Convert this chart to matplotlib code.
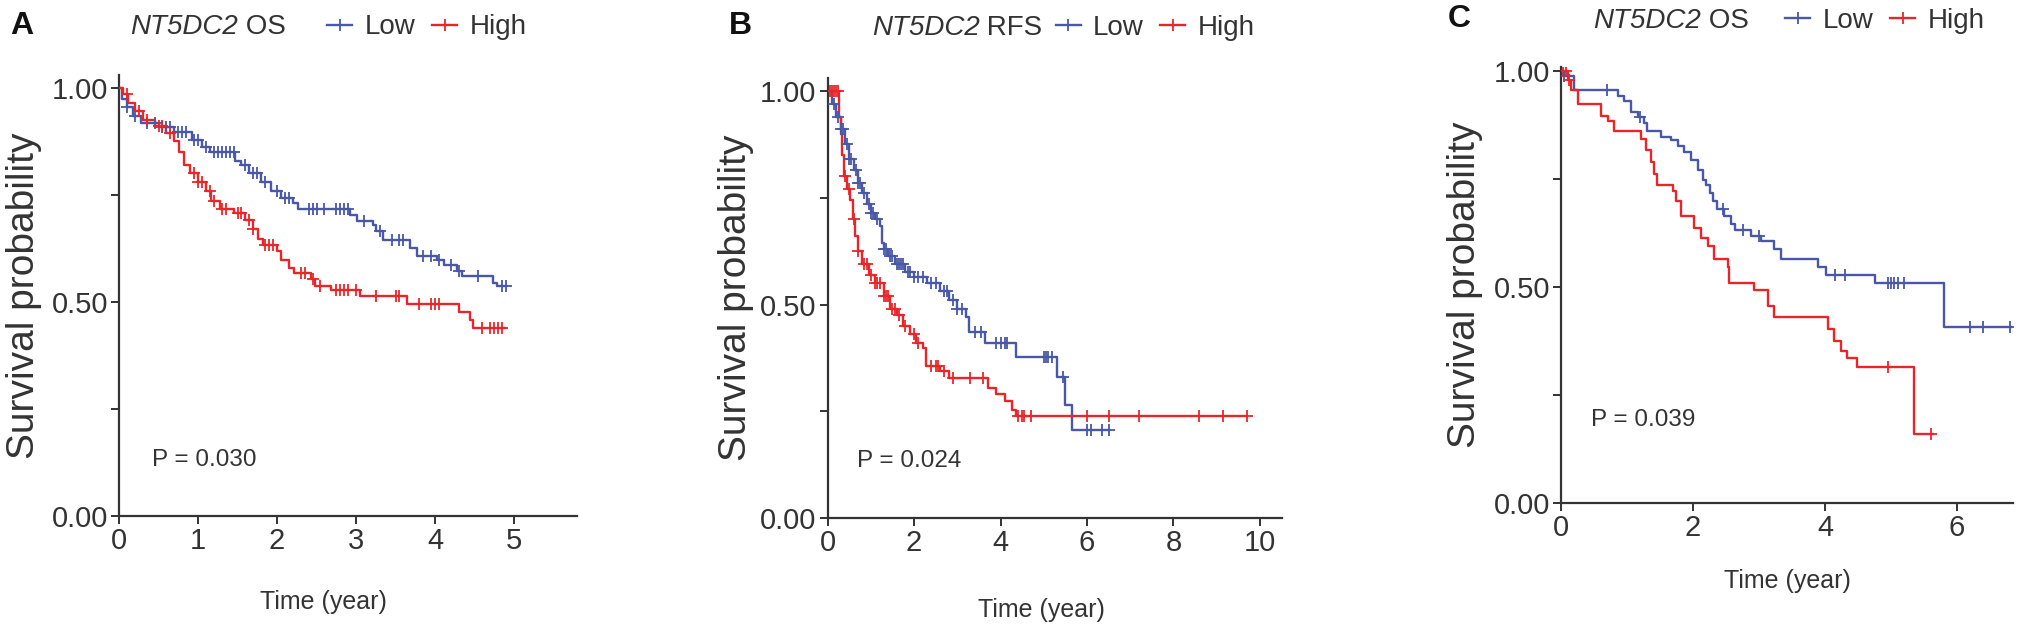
import numpy as np
import matplotlib
matplotlib.use("Agg")
import matplotlib.pyplot as plt
from matplotlib.lines import Line2D

plt.rcParams['font.family'] = ['Liberation Sans', 'DejaVu Sans']

BLUE = '#4858a6'
RED = '#e8262a'
GREY = '#333333'

# ---- panel A: NT5DC2 OS ----
a_low_t = [0, 0.04, 0.1, 0.18, 0.28, 0.5, 0.7, 0.92, 1.05, 1.15, 1.47, 1.55, 1.65, 1.8, 1.93,
           2.05, 2.2, 2.27, 2.92, 3.01, 3.21, 3.25, 3.34, 3.68, 3.77, 4.03, 4.12, 4.28, 4.34,
           4.73, 4.79]
a_low_s = [1.0, 0.975, 0.955, 0.935, 0.918, 0.908, 0.896, 0.878, 0.862, 0.85, 0.83, 0.82, 0.80,
           0.78, 0.758, 0.742, 0.73, 0.717, 0.704, 0.69, 0.68, 0.665, 0.645, 0.625, 0.607, 0.598,
           0.587, 0.572, 0.56, 0.545, 0.537]
a_low_end = 4.9
a_low_cens = [0.1, 0.2, 0.35, 0.45, 0.55, 0.6, 0.65, 0.75, 0.8, 0.85, 0.95, 1.0, 1.1, 1.2, 1.25,
              1.3, 1.35, 1.4, 1.45, 1.6, 1.7, 1.75, 1.85, 2.0, 2.1, 2.15, 2.4, 2.45, 2.5, 2.6,
              2.75, 2.8, 2.85, 2.9, 3.1, 3.3, 3.45, 3.55, 3.6, 3.85, 3.95, 4.05, 4.2, 4.3, 4.55,
              4.85, 4.9]

a_high_t = [0, 0.05, 0.12, 0.2, 0.3, 0.45, 0.6, 0.7, 0.76, 0.82, 0.9, 1.0, 1.1, 1.17, 1.28,
            1.45, 1.6, 1.7, 1.76, 1.82, 2.0, 2.05, 2.15, 2.22, 2.43, 2.48, 2.68, 3.05, 3.64,
            4.3, 4.44, 4.48]
a_high_s = [1.0, 0.985, 0.965, 0.945, 0.925, 0.91, 0.895, 0.875, 0.85, 0.82, 0.80, 0.78, 0.76,
            0.735, 0.717, 0.707, 0.692, 0.67, 0.648, 0.632, 0.618, 0.598, 0.58, 0.568, 0.553,
            0.537, 0.527, 0.513, 0.495, 0.476, 0.458, 0.44]
a_high_end = 4.89
a_high_cens = [0.1, 0.25, 0.35, 0.5, 0.55, 0.65, 0.95, 1.0, 1.05, 1.15, 1.2, 1.3, 1.35, 1.5,
               1.55, 1.65, 1.7, 1.85, 1.9, 1.95, 2.3, 2.35, 2.45, 2.55, 2.75, 2.8, 2.85, 2.9,
               3.0, 3.25, 3.5, 3.55, 3.8, 3.95, 4.0, 4.05, 4.6, 4.7, 4.75, 4.8, 4.85]

# ---- panel B: NT5DC2 RFS ----
b_low_t = [0, 0.1, 0.2, 0.3, 0.4, 0.5, 0.6, 0.7, 0.8, 0.9, 1.0, 1.1, 1.2, 1.25, 1.3, 1.4, 1.55,
           1.8, 2.0, 2.3, 2.6, 2.8, 3.0, 3.2, 3.28, 3.65, 4.35, 5.3, 5.5, 5.65]
b_low_s = [1.0, 0.97, 0.94, 0.91, 0.875, 0.84, 0.815, 0.785, 0.76, 0.735, 0.715, 0.70, 0.685,
           0.645, 0.63, 0.614, 0.595, 0.575, 0.565, 0.55, 0.532, 0.51, 0.49, 0.47, 0.435, 0.41,
           0.378, 0.33, 0.265, 0.207]
b_low_end = 6.5
b_low_cens = [0.15, 0.25, 0.3, 0.35, 0.45, 0.5, 0.55, 0.65, 0.7, 0.75, 0.85, 0.95, 1.0, 1.05,
              1.15, 1.3, 1.35, 1.45, 1.5, 1.6, 1.65, 1.7, 1.75, 1.85, 1.9, 2.0, 2.1, 2.2, 2.4,
              2.5, 2.7, 2.75, 2.9, 3.0, 3.1, 3.4, 3.55, 3.9, 4.0, 4.1, 4.15, 5.0, 5.05, 5.1,
              5.2, 5.45, 6.0, 6.1, 6.35, 6.5]

b_high_t = [0, 0.27, 0.3, 0.33, 0.38, 0.45, 0.52, 0.58, 0.64, 0.7, 0.8, 0.95, 1.1, 1.3, 1.45,
            1.6, 1.75, 1.9, 2.05, 2.2, 2.28, 2.6, 2.8, 3.7, 3.9, 4.1, 4.27, 4.35]
b_high_s = [1.0, 0.94, 0.90, 0.85, 0.80, 0.77, 0.745, 0.70, 0.66, 0.625, 0.595, 0.57, 0.55,
            0.52, 0.49, 0.475, 0.45, 0.43, 0.41, 0.398, 0.357, 0.345, 0.327, 0.305, 0.29,
            0.275, 0.253, 0.238]
b_high_end = 9.7
b_high_cens = [0.05, 0.1, 0.15, 0.2, 0.25, 0.4, 0.5, 0.6, 0.7, 0.85, 0.9, 1.0, 1.1, 1.15, 1.2,
               1.3, 1.35, 1.4, 1.5, 1.55, 1.65, 1.8, 2.0, 2.1, 2.4, 2.5, 2.55, 2.7, 2.9, 3.3,
               3.6, 4.4, 4.5, 4.55, 4.7, 6.0, 6.5, 7.2, 8.6, 9.15, 9.7]

# ---- panel C: NT5DC2 OS ----
c_low_t = [0, 0.05, 0.2, 0.86, 0.96, 1.06, 1.16, 1.26, 1.31, 1.52, 1.67, 1.77, 1.87, 1.97,
           2.07, 2.15, 2.2, 2.25, 2.3, 2.37, 2.47, 2.58, 2.63, 2.88, 3.03, 3.23, 3.33, 3.89,
           4.02, 4.75, 5.8]
c_low_s = [1.0, 0.99, 0.956, 0.942, 0.93, 0.906, 0.893, 0.88, 0.862, 0.848, 0.84, 0.826, 0.812,
           0.794, 0.772, 0.749, 0.736, 0.718, 0.70, 0.682, 0.664, 0.646, 0.633, 0.619, 0.606,
           0.588, 0.565, 0.547, 0.529, 0.509, 0.407]
c_low_end = 6.82
c_low_cens = [0.05, 0.7, 1.2, 2.45, 2.75, 3.0, 4.15, 4.3, 4.95, 5.0, 5.05, 5.1, 5.2, 6.2, 6.4,
              6.8]

c_high_t = [0, 0.1, 0.15, 0.25, 0.6, 0.71, 0.81, 1.21, 1.29, 1.36, 1.41, 1.46, 1.69, 1.74,
            1.82, 2.02, 2.12, 2.22, 2.32, 2.53, 2.55, 2.93, 3.13, 3.23, 4.04, 4.14, 4.24, 4.34,
            4.49, 5.35]
c_high_s = [1.0, 0.98, 0.956, 0.925, 0.897, 0.884, 0.862, 0.843, 0.817, 0.79, 0.763, 0.736,
            0.722, 0.70, 0.664, 0.637, 0.614, 0.596, 0.565, 0.547, 0.51, 0.493, 0.457, 0.43,
            0.403, 0.376, 0.353, 0.335, 0.315, 0.16]
c_high_end = 5.63
c_high_cens = [0.03, 0.08, 0.12, 4.95, 5.6]

panels = [
    dict(letter='A', gene='NT5DC2', kind=' OS', p='P = 0.030',
         low=(a_low_t, a_low_s, a_low_end, a_low_cens),
         high=(a_high_t, a_high_s, a_high_end, a_high_cens),
         rect=[0.0586, 0.1744, 0.2256, 0.7056], xlim=5.8, ytop=1.03, xticks=[0, 1, 2, 3, 4, 5],
         title_x=0.024, title_y=1.108, leg_x=0.455, p_xy=(0.072, 0.126),
         ylab_x=-0.168, xlab_y=-0.168, xlab_x=0.447, letter_xy=(0.005, 0.958)),
    dict(letter='B', gene='NT5DC2', kind=' RFS', p='P = 0.024',
         low=(b_low_t, b_low_s, b_low_end, b_low_cens),
         high=(b_high_t, b_high_s, b_high_end, b_high_cens),
         rect=[0.4075, 0.171, 0.2235, 0.704], xlim=10.5, ytop=1.03,
         xticks=[0, 2, 4, 6, 8, 10],
         title_x=0.097, title_y=1.115, leg_x=0.502, p_xy=(0.064, 0.13),
         ylab_x=-0.163, xlab_y=-0.182, xlab_x=0.47, letter_xy=(0.359, 0.958)),
    dict(letter='C', gene='NT5DC2', kind=' OS', p='P = 0.039',
         low=(c_low_t, c_low_s, c_low_end, c_low_cens),
         high=(c_high_t, c_high_s, c_high_end, c_high_cens),
         rect=[0.7686, 0.195, 0.2226, 0.698], xlim=6.85, ytop=1.01, xticks=[0, 2, 4, 6],
         title_x=0.071, title_y=1.106, leg_x=0.496, p_xy=(0.066, 0.19),
         ylab_x=-0.173, xlab_y=-0.152, xlab_x=0.5, letter_xy=(0.713, 0.969)),
]


def km(ax, t, s, end, cens, color):
    t = np.asarray(t)
    s = np.asarray(s)
    ax.step(np.append(t, end), np.append(s, s[-1]), where='post', color=color, lw=1.7,
            zorder=3)
    cens = np.asarray(cens)
    cy = s[np.searchsorted(t, cens, side='right') - 1]
    ax.plot(cens, cy, ls='none', marker='+', ms=8, mew=1.3, color=color, zorder=4)


fig = plt.figure(figsize=(20.31, 6.25), dpi=100)

for p in panels:
    ax = fig.add_axes(p['rect'])
    km(ax, *p['low'], BLUE)
    km(ax, *p['high'], RED)
    ax.set_xlim(0, p['xlim'])
    ax.set_ylim(0, p['ytop'])
    ax.set_yticks([0, 0.25, 0.5, 0.75, 1.0], labels=['0.00', '', '0.50', '', '1.00'])
    ax.set_xticks(p['xticks'])
    for side in ['top', 'right']:
        ax.spines[side].set_visible(False)
    for side in ['left', 'bottom']:
        ax.spines[side].set_color(GREY)
        ax.spines[side].set_linewidth(1.6)
    ax.tick_params(direction='out', length=6, width=1.4, color=GREY, labelcolor=GREY,
                   labelsize=21, pad=2)
    ax.set_ylabel('Survival probability', fontsize=28, color=GREY)
    ax.yaxis.set_label_coords(p['ylab_x'], 0.5)
    ax.set_xlabel('Time (year)', fontsize=18, color=GREY)
    ax.xaxis.set_label_coords(p['xlab_x'], p['xlab_y'])
    ax.text(p['p_xy'][0], p['p_xy'][1], p['p'], transform=ax.transAxes, fontsize=17.5,
            color=GREY, va='center', ha='left')
    # title: italic gene symbol followed by upright endpoint name
    g = ax.text(p['title_x'], p['title_y'], p['gene'], transform=ax.transAxes, fontsize=20,
                color=GREY, va='center', ha='left', fontstyle='italic')
    ax.annotate(p['kind'], xy=(1, 0), xycoords=g, fontsize=20, color=GREY,
                va='bottom', ha='left')
    handles = [Line2D([], [], color=BLUE, lw=1.7, marker='+', ms=8, mew=1.3),
               Line2D([], [], color=RED, lw=1.7, marker='+', ms=8, mew=1.3)]
    leg = ax.legend(handles, ['Low', 'High'], loc='center left',
                    bbox_to_anchor=(p['leg_x'], p['title_y']), ncol=2, frameon=False,
                    fontsize=20, handlelength=0.9, handletextpad=0.45, columnspacing=0.6,
                    borderpad=0, borderaxespad=0)
    for txt in leg.get_texts():
        txt.set_color(GREY)
    fig.text(p['letter_xy'][0], p['letter_xy'][1], p['letter'], fontsize=23,
             fontweight='bold', color='#111111', va='center', ha='left')

fig.savefig('out.png', dpi=100)
